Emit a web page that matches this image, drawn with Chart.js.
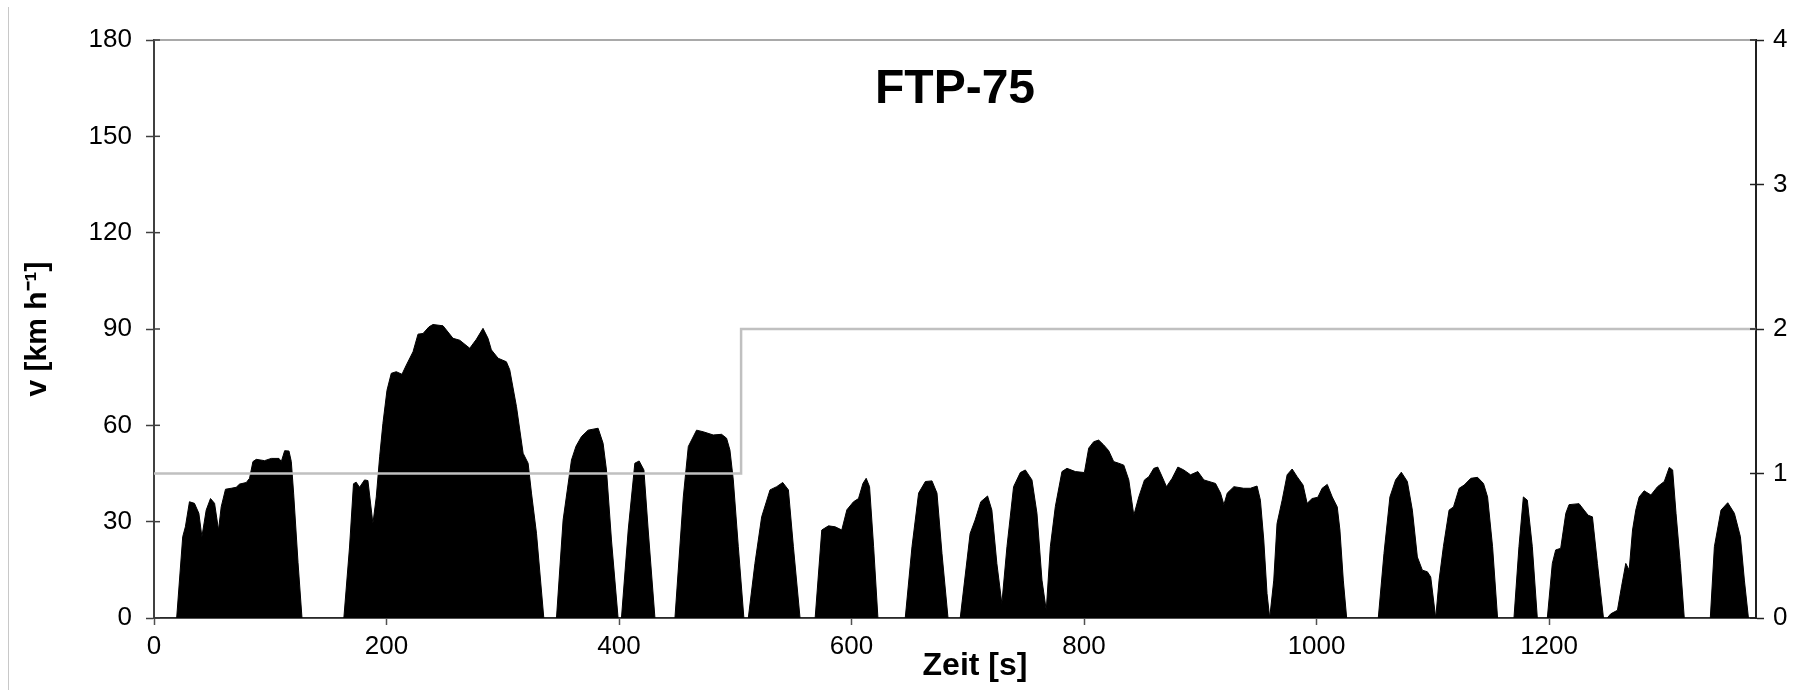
<!DOCTYPE html>
<html>

<head>
  <meta charset="UTF-8">
  <script src="https://cdn.jsdelivr.net/npm/chart.js"></script>
  <title>FTP-75</title>
  <style>
    body { margin: 0; background: #fff; }
    .grafic_cont { position: relative; width: 1802px; height: 690px; }
    .rand { position: absolute; left: 8px; top: 7px; width: 1px; height: 683px; background: #c8c8c8; }
  </style>
</head>

<body>
  <div class="grafic_cont">
    <div class="rand"></div>
    <canvas id="ftpChart"></canvas>
  </div>
  <script>
    // Fahrzyklus FTP-75 (Zeit in s, Geschwindigkeit in km/h)
    const zeit = [
      0, 19.5, 24.7, 27, 30.5, 34.8, 38.6, 41.2, 44.9, 48.6, 52.1, 55.5, 57.8, 61.5, 66.4, 70.7, 73.6, 79.4, 82.2, 85.1, 88, 95.1, 100.9, 107.5, 109.5, 112.4, 116.1, 118.1, 120.1, 123.9, 127.3,
      163.3, 168.2, 171.6, 173.9, 176.8, 181.1, 184, 188.3, 191.2, 194.1, 196.9, 200.4, 204.1, 208.4, 213.3, 217.1, 222.8, 227.1, 231.4, 236.6, 240, 248.6, 257.2, 263, 271.6, 277.3, 283, 287.3, 290.2, 296, 303.1, 306, 311.8, 317.5, 321.8, 324.7, 329, 335.3,
      346.2, 351.9, 359.1, 363, 367.7, 373.4, 382, 386.3, 389.2, 393.5, 399.2,
      402.1, 407.9, 413.6, 417.3, 421.4, 425.1, 430.9,
      448.1, 455.3, 459.6, 466.7, 472.4, 481, 488.2, 492.5, 495.4, 498.3, 502.6, 507.4,
      511.2, 516.9, 522.7, 529.9, 535.6, 540.8, 545.7, 550, 555.7,
      568.7, 574.4, 580.2, 585.9, 591.6, 596, 601.7, 606, 609.8, 612.6, 615.5, 619, 622.7,
      646.2, 652, 657.7, 663.5, 669.2, 673.5, 677.8, 683,
      693.5, 702, 706.3, 711.2, 717, 720.7, 725, 729.3, 733.7, 739.4, 745.2, 749.5, 755.2, 759.5, 763.8, 767.5, 771, 775.3, 781, 785.3, 792.5, 800.3, 804, 808.3, 812.6, 816.9, 821.2, 825.5, 829.8, 834.2, 838.5, 842.8, 847.1, 852, 855.7, 860, 863.4, 867.2, 870.9, 875.8, 880.7, 885.8, 891.6, 897.9, 903.1, 913.1, 917.4, 920.3, 923.2, 928.9, 937.3, 943.1, 948.8, 951.7, 954.6, 957.4, 959.7,
      963.2, 966, 970.4, 974.7, 979, 983.3, 988.4, 991.9, 996.2, 1001.1, 1004.8, 1009.2, 1013.5, 1017.8, 1020.1, 1023, 1025.9,
      1053.1, 1058, 1063.1, 1068, 1072.9, 1078.1, 1082.4, 1086.7, 1091, 1095.3, 1098.2, 1102.5, 1105.4, 1109.1, 1114, 1117.8, 1122.7, 1127, 1132.7, 1138.5, 1143.6, 1147.1, 1151.4, 1155.7,
      1169.8, 1174.1, 1177.9, 1181.3, 1185.6, 1189.9,
      1198.5, 1202.8, 1205.7, 1210, 1214.4, 1217.2, 1225.8, 1230.1, 1233.6, 1237.3, 1241.6, 1246.8,
      1250, 1253.1, 1258.8, 1262.3, 1266, 1268.9, 1271.8, 1274.6, 1277.5, 1281.8, 1287.6, 1293.3, 1299.1, 1303.4, 1306.3, 1309.2, 1312.9, 1316.3,
      1338.7, 1342.2, 1347.9, 1353.7, 1359.4, 1364.6, 1368, 1371.5, 1378
    ];
    const geschwindigkeit = [
      0, 0, 25.3, 28.4, 36.2, 35.7, 32.6, 25.3, 33.6, 37.2, 35.7, 27.4, 34.6, 40.1, 40.4, 40.7, 41.7, 42.2, 43.5, 48.7, 49.4, 49, 49.7, 49.7, 48.7, 52.1, 52, 48.7, 38.9, 17.2, 0,
      0, 22.1, 41.8, 42.3, 40.7, 43, 42.8, 29.4, 37.7, 50.2, 60.6, 70.9, 76.2, 76.7, 75.9, 78.8, 82.9, 88.4, 88.6, 90.7, 91.4, 91, 87.1, 86.5, 84, 86.8, 90.2, 87.1, 83.5, 80.9, 79.8, 77.3, 65.8, 51.3, 48.2, 38.9, 26.4, 0,
      0, 30.5, 49.2, 53.5, 56.5, 58.5, 59.1, 54.4, 46.1, 24.3, 0,
      0, 27.4, 48.2, 48.9, 46.1, 27.4, 0,
      0, 37.7, 53.4, 58.5, 58, 57, 57.2, 56, 52.3, 43, 22.2, 0,
      0, 17, 31.5, 39.9, 40.9, 42.2, 39.9, 22.2, 0,
      0, 27.4, 28.7, 28.4, 27.4, 33.7, 36.2, 37.2, 41.9, 43.5, 40.9, 22.2, 0,
      0, 22.2, 38.9, 42.5, 42.7, 38.9, 20.1, 0,
      0, 26.3, 30.5, 36.2, 38, 33.6, 17, 4.5, 22.2, 40.9, 45.3, 46.1, 43, 32.6, 11.8, 2.4, 22.2, 34.7, 45.6, 46.6, 45.6, 45.3, 52.9, 54.9, 55.4, 53.9, 52.1, 48.7, 48.2, 47.6, 43, 32, 37.7, 43, 44, 46.6, 47, 44, 40.9, 43.5, 47, 46.1, 44.6, 45.6, 43, 41.9, 38.9, 35.3, 38.9, 40.9, 40.4, 40.4, 41.1, 36.7, 24.3, 7.6, 0,
      11.8, 29.4, 36.7, 44.6, 46.4, 44, 41.4, 35.7, 37.2, 37.6, 40.4, 41.6, 37.7, 34.6, 27.4, 11.8, 0,
      0, 20.1, 37.7, 43, 45.4, 42.5, 33.6, 19, 14.9, 14.4, 12.8, 0, 11.8, 22.2, 33.6, 34.6, 40.4, 41.4, 43.5, 43.8, 41.9, 37.7, 22.2, 0,
      0, 22.2, 37.7, 36.7, 22.2, 0,
      0, 17, 21.2, 21.7, 32.6, 35.3, 35.6, 33.6, 32, 31.5, 17, 0,
      0, 1.3, 2.4, 9.7, 17, 14.9, 27.4, 33.6, 37.7, 39.6, 38.3, 40.9, 42.5, 46.9, 46.1, 32.6, 17, 0,
      0, 22.2, 33.6, 35.9, 32.6, 25.3, 11.8, 0, 0
    ];
    // Phase (rechte Achse)
    const phaseZeit = [0, 505, 505, 1378];
    const phaseWert = [1, 1, 2, 2];

    // Achsenbeschriftung
    const xTicks = [0, 200, 400, 600, 800, 1000, 1200];
    const yTicks = [0, 30, 60, 90, 120, 150, 180];
    const y1Ticks = [0, 1, 2, 3, 4];

    const titel = 'FTP-75';
    const xTitel = 'Zeit [s]';
    const yTitel = 'v [km h⁻¹]';

    if (zeit.length !== geschwindigkeit.length) {
      console.log('Längen passen nicht: ' + zeit.length + ' / ' + geschwindigkeit.length);
    }

    const schrift = "'Liberation Sans', Arial, sans-serif";

    var punkte = zeit.map(function (t, i) { return { x: t, y: geschwindigkeit[i] }; });
    var phasePunkte = phaseZeit.map(function (t, i) { return { x: t, y: phaseWert[i] }; });

    function setzeTicks(liste) {
      return function (s) { s.ticks = liste.map(function (v) { return { value: v }; }); };
    }
    function ohneKomma(value) { return String(value); }

    // Rahmen oben, Striche nach innen und Texte im Diagramm
    var rahmenPlugin = {
      id: 'rahmen',
      afterDraw: function (chart) {
        var c = chart.ctx;
        var a = chart.chartArea;
        c.save();
        c.lineWidth = 1.5;
        c.strokeStyle = '#8c8c8c';
        c.beginPath();
        c.moveTo(a.left, a.top);
        c.lineTo(a.right, a.top);
        c.stroke();

        ['y', 'y1'].forEach(function (id) {
          var s = chart.scales[id];
          var x0 = id === 'y' ? a.left : a.right;
          var dir = id === 'y' ? 1 : -1;
          c.strokeStyle = id === 'y' ? '#404040' : '#202020';
          s.ticks.forEach(function (t) {
            var py = s.getPixelForValue(t.value);
            c.beginPath();
            c.moveTo(x0, py);
            c.lineTo(x0 + dir * 6, py);
            c.stroke();
          });
        });

        c.fillStyle = '#000';
        c.textAlign = 'center';
        c.textBaseline = 'alphabetic';
        c.font = 'bold 48px ' + schrift;
        c.fillText(titel, (a.left + a.right) / 2, a.top + 63);
        c.font = 'bold 32px ' + schrift;
        c.fillText(xTitel, (a.left + a.right) / 2 + 20, a.bottom + 57);
        c.restore();
      }
    };

    var ctx = document.getElementById('ftpChart').getContext('2d');
    var chart = new Chart(ctx, {
      type: 'line',
      data: {
        datasets: [{
          label: 'v',
          data: punkte,
          yAxisID: 'y',
          borderColor: '#000',
          borderWidth: 1,
          backgroundColor: '#000',
          fill: 'origin',
          pointRadius: 0,
          order: 1
        }, {
          label: 'Phase',
          data: phasePunkte,
          yAxisID: 'y1',
          borderColor: '#c0c0c0',
          borderWidth: 2.5,
          fill: false,
          pointRadius: 0,
          order: 0
        }]
      },
      options: {
        responsive: true,
        maintainAspectRatio: false,
        animation: false,
        layout: { padding: { top: 40, left: 0, right: 0, bottom: 0 } },
        plugins: {
          legend: { display: false },
          tooltip: { enabled: false }
        },
        scales: {
          x: {
            type: 'linear',
            min: 0,
            max: 1378,
            afterBuildTicks: setzeTicks(xTicks),
            afterFit: function (s) { s.height = 72; },
            ticks: {
              padding: 6,
              maxRotation: 0,
              autoSkip: false,
              color: '#000',
              callback: ohneKomma,
              font: { family: schrift, size: 26 }
            },
            grid: { drawOnChartArea: false, tickLength: 7, tickColor: '#505050', tickWidth: 1.5 },
            border: { color: '#505050', width: 2 }
          },
          y: {
            position: 'left',
            min: 0,
            max: 180,
            afterBuildTicks: setzeTicks(yTicks),
            afterFit: function (s) { s.width = 154; },
            ticks: {
              padding: 14,
              autoSkip: false,
              color: '#000',
              callback: ohneKomma,
              font: { family: schrift, size: 26 }
            },
            grid: { drawOnChartArea: false, tickLength: 8, tickColor: '#404040', tickWidth: 1.5 },
            border: { color: '#404040', width: 2 },
            title: {
              display: true,
              text: yTitel,
              color: '#000',
              font: { family: schrift, size: 30, weight: 'bold' },
              padding: { top: 20, bottom: 0 }
            }
          },
          y1: {
            position: 'right',
            min: 0,
            max: 4,
            afterBuildTicks: setzeTicks(y1Ticks),
            afterFit: function (s) { s.width = 46; },
            ticks: {
              padding: 9,
              autoSkip: false,
              color: '#000',
              callback: ohneKomma,
              font: { family: schrift, size: 26 }
            },
            grid: { drawOnChartArea: false, tickLength: 8, tickColor: '#202020', tickWidth: 1.5 },
            border: { color: '#202020', width: 2 }
          }
        }
      },
      plugins: [rahmenPlugin]
    });
  </script>
</body>

</html>
